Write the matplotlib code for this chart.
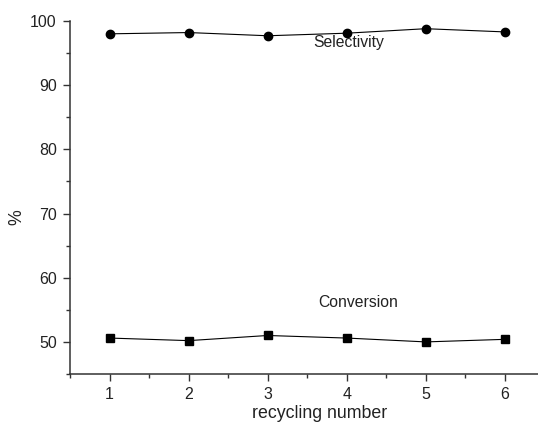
import matplotlib
matplotlib.use("Agg")
import matplotlib.pyplot as plt
from matplotlib.ticker import MultipleLocator

cycles = [1, 2, 3, 4, 5, 6]
selectivity = [98.0, 98.2, 97.7, 98.1, 98.8, 98.3]
conversion = [50.6, 50.2, 51.0, 50.6, 50.0, 50.4]

plt.rcParams['font.family'] = ['Liberation Sans', 'DejaVu Sans']

fig = plt.figure(figsize=(5.38, 4.25), dpi=100)
ax = fig.add_axes([70 / 538, 51 / 425, 468 / 538, 353 / 425])

ax.plot(cycles, selectivity, '-o', color='black', lw=0.8, ms=6, mfc='black')
ax.plot(cycles, conversion, '-s', color='black', lw=0.8, ms=5.5, mfc='black')

ax.text(4.02, 96.6, 'Selectivity', ha='center', va='center', fontsize=11.3, color='#222222')
ax.text(4.14, 56.1, 'Conversion', ha='center', va='center', fontsize=11.3, color='#222222')

ax.set_xlim(0.5, 6.42)
ax.set_ylim(45, 100)
ax.xaxis.set_major_locator(MultipleLocator(1))
ax.xaxis.set_minor_locator(MultipleLocator(0.5))
ax.yaxis.set_major_locator(MultipleLocator(10))
ax.yaxis.set_minor_locator(MultipleLocator(5))

for side in ['top', 'right']:
    ax.spines[side].set_visible(False)
for side in ['left', 'bottom']:
    ax.spines[side].set_linewidth(1.1)
    ax.spines[side].set_color('#333333')

ax.tick_params(which='major', direction='out', length=5, width=1.0, color='#333333',
               labelsize=11.5, labelcolor='#222222', pad=4.5)
ax.tick_params(which='minor', direction='out', length=3, width=1.0, color='#333333')

ax.set_xlabel('recycling number', fontsize=12.8, color='#222222')
ax.set_ylabel('%', fontsize=12.8, color='#222222')
ax.xaxis.set_label_coords(0.533, -0.088)
ax.yaxis.set_label_coords(-0.096, 0.445)

fig.savefig('out.png', dpi=100)
